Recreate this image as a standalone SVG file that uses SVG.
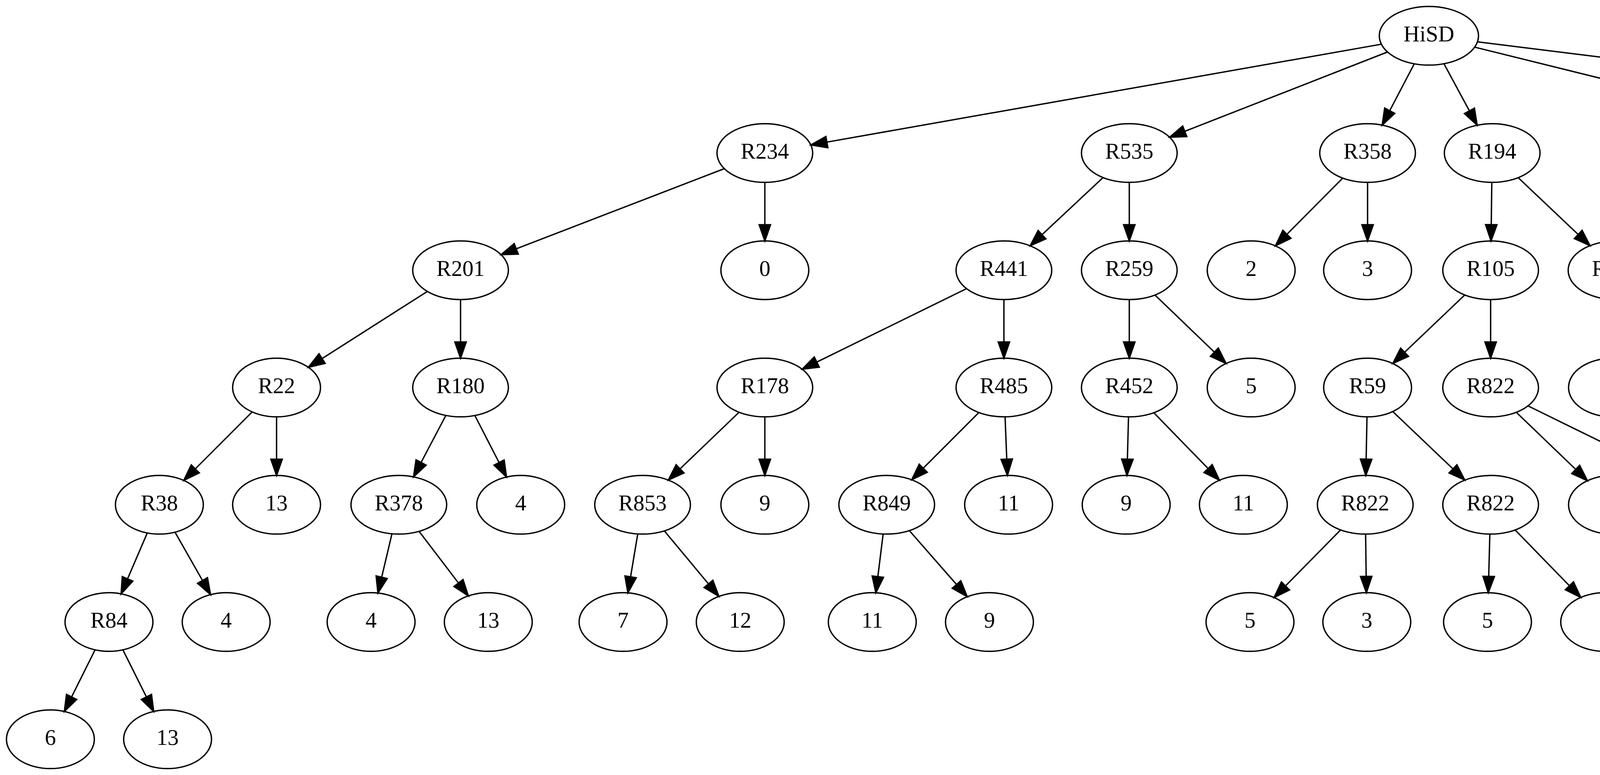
<svg xmlns="http://www.w3.org/2000/svg" width="6958" height="1983" viewBox="0 0 6958 1983">
<style>
.node ellipse{fill:none;stroke:#000;stroke-width:3.5}
.node text{font-family:"Liberation Serif","Times New Roman",serif;font-size:57px;text-anchor:middle;fill:#000}
.edges line{stroke:#000;stroke-width:3.5;fill:none;marker-end:url(#arr)}
</style>
<defs>
<marker id="arr" markerUnits="userSpaceOnUse" viewBox="0 0 44 32" markerWidth="44" markerHeight="32" refX="0" refY="16" orient="auto" overflow="visible">
<path d="M0,1.4 L41.7,16 L0,30.6 Z" fill="#000" stroke="#000" stroke-width="3.5"/>
</marker>
</defs>
<rect x="0" y="0" width="6958" height="1983" fill="#fff"/>
<g id="connectors" class="edges">
<line x1="3536.3" y1="113.1" x2="2116.8" y2="363.6"/>
<line x1="3552.1" y1="133.0" x2="3033.0" y2="336.0"/>
<line x1="3620.5" y1="163.3" x2="3557.7" y2="283.3"/>
<line x1="3696.6" y1="163.1" x2="3761.7" y2="283.7"/>
<line x1="3775.1" y1="120.6" x2="4715.9" y2="353.5"/>
<line x1="3782.3" y1="107.0" x2="5912.5" y2="371.6"/>
<line x1="1854.3" y1="431.5" x2="1321.6" y2="636.7"/>
<line x1="1958" y1="466.6" x2="1958" y2="574.9"/>
<line x1="2823.9" y1="454.3" x2="2667.6" y2="600.4"/>
<line x1="2891" y1="466.6" x2="2891" y2="574.9"/>
<line x1="3437.4" y1="455.7" x2="3294.5" y2="599.5"/>
<line x1="3501" y1="466.6" x2="3501" y2="574.9"/>
<line x1="3819" y1="466.6" x2="3817.6" y2="574.9"/>
<line x1="3886.5" y1="454.6" x2="4040.2" y2="599.9"/>
<line x1="4870" y1="466.6" x2="4870" y2="574.9"/>
<line x1="4953.7" y1="446.4" x2="5209.5" y2="614.0"/>
<line x1="6074" y1="466.6" x2="6074" y2="574.9"/>
<line x1="6157.3" y1="446.6" x2="6413.3" y2="615.8"/>
<line x1="1094.1" y1="745.7" x2="824.5" y2="917.4"/>
<line x1="1179" y1="766.6" x2="1179" y2="874.9"/>
<line x1="2474.4" y1="738.5" x2="2091.0" y2="926.4"/>
<line x1="2570" y1="766.6" x2="2570" y2="874.9"/>
<line x1="2891" y1="766.6" x2="2891" y2="874.9"/>
<line x1="2956.8" y1="754.9" x2="3108.8" y2="901.1"/>
<line x1="3749.8" y1="754.7" x2="3595.7" y2="901.4"/>
<line x1="3816" y1="766.6" x2="3816" y2="874.9"/>
<line x1="4134.8" y1="766.6" x2="4131.5" y2="874.9"/>
<line x1="4199.6" y1="756.1" x2="4337.9" y2="898.7"/>
<line x1="4835.9" y1="763.6" x2="4779.7" y2="882.4"/>
<line x1="4907.6" y1="763.0" x2="4971.3" y2="883.9"/>
<line x1="5328" y1="766.6" x2="5328" y2="874.9"/>
<line x1="5392.0" y1="755.6" x2="5536.1" y2="899.7"/>
<line x1="6039.0" y1="763.5" x2="5981.0" y2="882.8"/>
<line x1="6110.7" y1="763.2" x2="6172.6" y2="883.5"/>
<line x1="6528" y1="766.6" x2="6528" y2="874.9"/>
<line x1="6590.4" y1="754.0" x2="6736.1" y2="899.7"/>
<line x1="645.6" y1="1054.0" x2="499.9" y2="1199.7"/>
<line x1="708" y1="1066.6" x2="708" y2="1174.9"/>
<line x1="1141.4" y1="1063.0" x2="1078.0" y2="1183.3"/>
<line x1="1215.7" y1="1063.2" x2="1277.6" y2="1183.5"/>
<line x1="1892.1" y1="1054.8" x2="1741.0" y2="1199.6"/>
<line x1="1958" y1="1066.6" x2="1958" y2="1174.9"/>
<line x1="2506.0" y1="1055.6" x2="2363.5" y2="1198.1"/>
<line x1="2573" y1="1066.6" x2="2577.3" y2="1174.9"/>
<line x1="2889" y1="1066.6" x2="2886.1" y2="1174.9"/>
<line x1="2953.7" y1="1056.0" x2="3092.7" y2="1198.8"/>
<line x1="3499.5" y1="1066.6" x2="3497.3" y2="1174.9"/>
<line x1="3565.5" y1="1053.0" x2="3719.6" y2="1199.7"/>
<line x1="3881.8" y1="1054.9" x2="4033.8" y2="1201.1"/>
<line x1="3911.6" y1="1038.5" x2="4300.0" y2="1228.9"/>
<line x1="5890.7" y1="1062.4" x2="5827.0" y2="1183.3"/>
<line x1="5964.4" y1="1062.6" x2="6026.6" y2="1183.5"/>
<line x1="377.0" y1="1363.7" x2="326.5" y2="1481.2"/>
<line x1="448.0" y1="1361.7" x2="518.4" y2="1485.3"/>
<line x1="1003.4" y1="1365.8" x2="977.1" y2="1476.9"/>
<line x1="1072.9" y1="1359.6" x2="1173.7" y2="1491.7"/>
<line x1="1632.6" y1="1366.2" x2="1614.3" y2="1476.0"/>
<line x1="1700.7" y1="1358.4" x2="1813.7" y2="1494.0"/>
<line x1="2260.8" y1="1366.4" x2="2247.3" y2="1475.5"/>
<line x1="2327.9" y1="1357.7" x2="2448.7" y2="1495.5"/>
<line x1="3431.8" y1="1355.9" x2="3290.9" y2="1499.2"/>
<line x1="3496" y1="1366.6" x2="3497.4" y2="1474.9"/>
<line x1="3814" y1="1366.6" x2="3811.1" y2="1474.9"/>
<line x1="3878.7" y1="1356.0" x2="4017.7" y2="1498.8"/>
<line x1="5734.1" y1="1363.3" x2="5674.3" y2="1483.2"/>
<line x1="5805.9" y1="1363.3" x2="5865.8" y2="1483.2"/>
<line x1="243.4" y1="1662.8" x2="183.3" y2="1783.2"/>
<line x1="314.6" y1="1662.8" x2="374.8" y2="1783.2"/>
</g>
<g id="n0" class="node"><ellipse cx="3658" cy="91.6" rx="127" ry="75"/><text x="3658" y="105.6">HiSD</text></g>
<g id="n1" class="node"><ellipse cx="1958" cy="391.6" rx="122.5" ry="75"/><text x="1958" y="405.6">R234</text></g>
<g id="n2" class="node"><ellipse cx="2891" cy="391.6" rx="122.5" ry="75"/><text x="2891" y="405.6">R535</text></g>
<g id="n3" class="node"><ellipse cx="3501" cy="391.6" rx="122.5" ry="75"/><text x="3501" y="405.6">R358</text></g>
<g id="n4" class="node"><ellipse cx="3820" cy="391.6" rx="122.5" ry="75"/><text x="3820" y="405.6">R194</text></g>
<g id="n5" class="node"><ellipse cx="4870" cy="391.6" rx="122.5" ry="75"/><text x="4870" y="405.6">R425</text></g>
<g id="n6" class="node"><ellipse cx="6074" cy="391.6" rx="122.5" ry="75"/><text x="6074" y="405.6">R344</text></g>
<g id="n7" class="node"><ellipse cx="1179" cy="691.6" rx="122.5" ry="75"/><text x="1179" y="705.6">R201</text></g>
<g id="n8" class="node"><ellipse cx="1958" cy="691.6" rx="112.5" ry="75"/><text x="1958" y="705.6">0</text></g>
<g id="n9" class="node"><ellipse cx="2570" cy="691.6" rx="122.5" ry="75"/><text x="2570" y="705.6">R441</text></g>
<g id="n10" class="node"><ellipse cx="2891" cy="691.6" rx="122.5" ry="75"/><text x="2891" y="705.6">R259</text></g>
<g id="n11" class="node"><ellipse cx="3203" cy="691.6" rx="112.5" ry="75"/><text x="3203" y="705.6">2</text></g>
<g id="n12" class="node"><ellipse cx="3501" cy="691.6" rx="112.5" ry="75"/><text x="3501" y="705.6">3</text></g>
<g id="n13" class="node"><ellipse cx="3816" cy="691.6" rx="122.5" ry="75"/><text x="3816" y="705.6">R105</text></g>
<g id="n14" class="node"><ellipse cx="4137" cy="691.6" rx="122.5" ry="75"/><text x="4137" y="705.6">R822</text></g>
<g id="n15" class="node"><ellipse cx="4870" cy="691.6" rx="122.5" ry="75"/><text x="4870" y="705.6">R358</text></g>
<g id="n16" class="node"><ellipse cx="5328" cy="691.6" rx="122.5" ry="75"/><text x="5328" y="705.6">R358</text></g>
<g id="n17" class="node"><ellipse cx="6074" cy="691.6" rx="122.5" ry="75"/><text x="6074" y="705.6">R347</text></g>
<g id="n18" class="node"><ellipse cx="6528" cy="691.6" rx="112.5" ry="75"/><text x="6528" y="705.6">R42</text></g>
<g id="n19" class="node"><ellipse cx="708" cy="991.6" rx="112.5" ry="75"/><text x="708" y="1005.6">R22</text></g>
<g id="n20" class="node"><ellipse cx="1179" cy="991.6" rx="122.5" ry="75"/><text x="1179" y="1005.6">R180</text></g>
<g id="n21" class="node"><ellipse cx="1958" cy="991.6" rx="122.5" ry="75"/><text x="1958" y="1005.6">R178</text></g>
<g id="n22" class="node"><ellipse cx="2570" cy="991.6" rx="122.5" ry="75"/><text x="2570" y="1005.6">R485</text></g>
<g id="n23" class="node"><ellipse cx="2891" cy="991.6" rx="122.5" ry="75"/><text x="2891" y="1005.6">R452</text></g>
<g id="n24" class="node"><ellipse cx="3203" cy="991.6" rx="112.5" ry="75"/><text x="3203" y="1005.6">5</text></g>
<g id="n25" class="node"><ellipse cx="3501" cy="991.6" rx="112.5" ry="75"/><text x="3501" y="1005.6">R59</text></g>
<g id="n26" class="node"><ellipse cx="3816" cy="991.6" rx="122.5" ry="75"/><text x="3816" y="1005.6">R822</text></g>
<g id="n27" class="node"><ellipse cx="4128" cy="991.6" rx="112.5" ry="75"/><text x="4128" y="1005.6">5</text></g>
<g id="n28" class="node"><ellipse cx="4428" cy="991.6" rx="112.5" ry="75"/><text x="4428" y="1005.6">3</text></g>
<g id="n29" class="node"><ellipse cx="4728" cy="991.6" rx="112.5" ry="75"/><text x="4728" y="1005.6">2</text></g>
<g id="n30" class="node"><ellipse cx="5028" cy="991.6" rx="112.5" ry="75"/><text x="5028" y="1005.6">3</text></g>
<g id="n31" class="node"><ellipse cx="5328" cy="991.6" rx="112.5" ry="75"/><text x="5328" y="1005.6">2</text></g>
<g id="n32" class="node"><ellipse cx="5628" cy="991.6" rx="112.5" ry="75"/><text x="5628" y="1005.6">3</text></g>
<g id="n33" class="node"><ellipse cx="5928" cy="991.6" rx="112.5" ry="75"/><text x="5928" y="1005.6">R20</text></g>
<g id="n34" class="node"><ellipse cx="6228" cy="991.6" rx="112.5" ry="75"/><text x="6228" y="1005.6">10</text></g>
<g id="n35" class="node"><ellipse cx="6528" cy="991.6" rx="112.5" ry="75"/><text x="6528" y="1005.6">1</text></g>
<g id="n36" class="node"><ellipse cx="6828" cy="991.6" rx="112.5" ry="75"/><text x="6828" y="1005.6">10</text></g>
<g id="n37" class="node"><ellipse cx="408" cy="1291.6" rx="112.5" ry="75"/><text x="408" y="1305.6">R38</text></g>
<g id="n38" class="node"><ellipse cx="708" cy="1291.6" rx="112.5" ry="75"/><text x="708" y="1305.6">13</text></g>
<g id="n39" class="node"><ellipse cx="1021" cy="1291.6" rx="122.5" ry="75"/><text x="1021" y="1305.6">R378</text></g>
<g id="n40" class="node"><ellipse cx="1333" cy="1291.6" rx="112.5" ry="75"/><text x="1333" y="1305.6">4</text></g>
<g id="n41" class="node"><ellipse cx="1645" cy="1291.6" rx="122.5" ry="75"/><text x="1645" y="1305.6">R853</text></g>
<g id="n42" class="node"><ellipse cx="1958" cy="1291.6" rx="112.5" ry="75"/><text x="1958" y="1305.6">9</text></g>
<g id="n43" class="node"><ellipse cx="2270" cy="1291.6" rx="122.5" ry="75"/><text x="2270" y="1305.6">R849</text></g>
<g id="n44" class="node"><ellipse cx="2582" cy="1291.6" rx="112.5" ry="75"/><text x="2582" y="1305.6">11</text></g>
<g id="n45" class="node"><ellipse cx="2883" cy="1291.6" rx="112.5" ry="75"/><text x="2883" y="1305.6">9</text></g>
<g id="n46" class="node"><ellipse cx="3183" cy="1291.6" rx="112.5" ry="75"/><text x="3183" y="1305.6">11</text></g>
<g id="n47" class="node"><ellipse cx="3495" cy="1291.6" rx="122.5" ry="75"/><text x="3495" y="1305.6">R822</text></g>
<g id="n48" class="node"><ellipse cx="3816" cy="1291.6" rx="122.5" ry="75"/><text x="3816" y="1305.6">R822</text></g>
<g id="n49" class="node"><ellipse cx="4128" cy="1291.6" rx="112.5" ry="75"/><text x="4128" y="1305.6">5</text></g>
<g id="n50" class="node"><ellipse cx="4428" cy="1291.6" rx="112.5" ry="75"/><text x="4428" y="1305.6">3</text></g>
<g id="n51" class="node"><ellipse cx="5770" cy="1291.6" rx="122.5" ry="75"/><text x="5770" y="1305.6">R848</text></g>
<g id="n52" class="node"><ellipse cx="6082" cy="1291.6" rx="112.5" ry="75"/><text x="6082" y="1305.6">1</text></g>
<g id="n53" class="node"><ellipse cx="279" cy="1591.6" rx="112.5" ry="75"/><text x="279" y="1605.6">R84</text></g>
<g id="n54" class="node"><ellipse cx="579" cy="1591.6" rx="112.5" ry="75"/><text x="579" y="1605.6">4</text></g>
<g id="n55" class="node"><ellipse cx="950" cy="1591.6" rx="112.5" ry="75"/><text x="950" y="1605.6">4</text></g>
<g id="n56" class="node"><ellipse cx="1250" cy="1591.6" rx="112.5" ry="75"/><text x="1250" y="1605.6">13</text></g>
<g id="n57" class="node"><ellipse cx="1595" cy="1591.6" rx="112.5" ry="75"/><text x="1595" y="1605.6">7</text></g>
<g id="n58" class="node"><ellipse cx="1895" cy="1591.6" rx="112.5" ry="75"/><text x="1895" y="1605.6">12</text></g>
<g id="n59" class="node"><ellipse cx="2233" cy="1591.6" rx="112.5" ry="75"/><text x="2233" y="1605.6">11</text></g>
<g id="n60" class="node"><ellipse cx="2533" cy="1591.6" rx="112.5" ry="75"/><text x="2533" y="1605.6">9</text></g>
<g id="n61" class="node"><ellipse cx="3200" cy="1591.6" rx="112.5" ry="75"/><text x="3200" y="1605.6">5</text></g>
<g id="n62" class="node"><ellipse cx="3499" cy="1591.6" rx="112.5" ry="75"/><text x="3499" y="1605.6">3</text></g>
<g id="n63" class="node"><ellipse cx="3808" cy="1591.6" rx="112.5" ry="75"/><text x="3808" y="1605.6">5</text></g>
<g id="n64" class="node"><ellipse cx="4108" cy="1591.6" rx="112.5" ry="75"/><text x="4108" y="1605.6">3</text></g>
<g id="n65" class="node"><ellipse cx="5620" cy="1591.6" rx="112.5" ry="75"/><text x="5620" y="1605.6">2</text></g>
<g id="n66" class="node"><ellipse cx="5920" cy="1591.6" rx="112.5" ry="75"/><text x="5920" y="1605.6">8</text></g>
<g id="n67" class="node"><ellipse cx="129" cy="1891.6" rx="112.5" ry="75"/><text x="129" y="1905.6">6</text></g>
<g id="n68" class="node"><ellipse cx="429" cy="1891.6" rx="112.5" ry="75"/><text x="429" y="1905.6">13</text></g>
</svg>
